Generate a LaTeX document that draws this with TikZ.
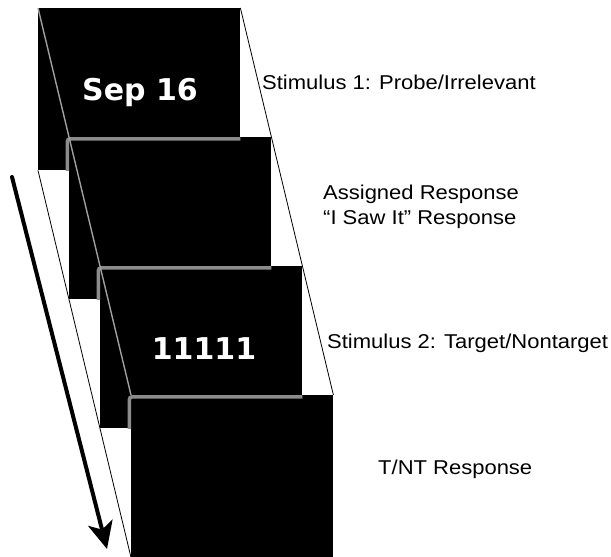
\documentclass[tikz,border=0pt]{standalone}
\usepackage{fontspec}
\newfontfamily\labfont[FakeStretch=1.1]{Liberation Sans}
\newfontfamily\cardfont{DejaVu Sans}
\usetikzlibrary{arrows.meta}
\definecolor{bevel}{HTML}{8C8C8C}
\definecolor{glint}{HTML}{A0A0A0}
\tikzset{
  card/.style={fill=black, draw=none, anchor=north west, inner sep=0pt,
    minimum width=202pt, minimum height=162pt},
  cardtext/.style={text=white, anchor=base, inner sep=0pt,
    font=\cardfont\bfseries\fontsize{30}{36}\selectfont},
  lab/.style={anchor=base west, inner sep=0pt, text=black,
    font=\labfont\fontsize{20}{24}\selectfont},
  outerline/.style={line width=0.8pt, draw=black},
  glintline/.style={line width=1.4pt, draw=glint},
  bevelline/.style={line width=3.5pt, draw=bevel, rounded corners=3pt},
}
\begin{document}
\begin{tikzpicture}[x=1pt,y=-1pt]
\useasboundingbox (0,0) rectangle (611,557);
% cards
\node[card] (c1) at (38,8) {};
\node[card] (c2) at (69,137) {};
\node[card] (c3) at (100,266) {};
\node[card] (c4) at (131,395) {};
% bevel edges visible against the card behind
\begin{scope}
  \clip (c1.north west) rectangle (c1.south east);
  \path[bevelline] ([xshift=-1.75pt]c2.south west) -- ([shift={(-1.75pt,-1.75pt)}]c2.north west) -- ([yshift=-1.75pt]c2.north east);
\end{scope}
\begin{scope}
  \clip (c2.north west) rectangle (c2.south east);
  \path[bevelline] ([xshift=-1.75pt]c3.south west) -- ([shift={(-1.75pt,-1.75pt)}]c3.north west) -- ([yshift=-1.75pt]c3.north east);
\end{scope}
\begin{scope}
  \clip (c3.north west) rectangle (c3.south east);
  \path[bevelline] ([xshift=-1.75pt]c4.south west) -- ([shift={(-1.75pt,-1.75pt)}]c4.north west) -- ([yshift=-1.75pt]c4.north east);
\end{scope}
% perspective lines
\draw[glintline] (c1.north west) -- (c2.north west) -- (c3.north west) -- (c4.north west);
\draw[outerline] (c1.south west) -- (c4.south west);
\draw[outerline] (c1.north east) -- (c4.north east);
% card texts
\node[cardtext] (t1) at (140,100) {Sep 16};
\node[cardtext] (t3) at (204,359) {11111};
% labels
\node[lab] (l1) at (262,89) {Stimulus 1: Probe/Irrelevant};
\node[lab] (l2a) at (323,199) {Assigned Response};
\node[lab] (l2b) at (323,224) {“I Saw It” Response};
\node[lab] (l3) at (327,348) {Stimulus 2: Target/Nontarget};
\node[lab] (l4) at (378,474) {T/NT Response};
% time arrow
\coordinate (as) at (12,177);
\coordinate (ae) at (107,549);
\draw[line width=4pt, line cap=round, -{Stealth[length=27pt,width=25pt,inset=7pt]}] (as) -- (ae);
\end{tikzpicture}
\end{document}
